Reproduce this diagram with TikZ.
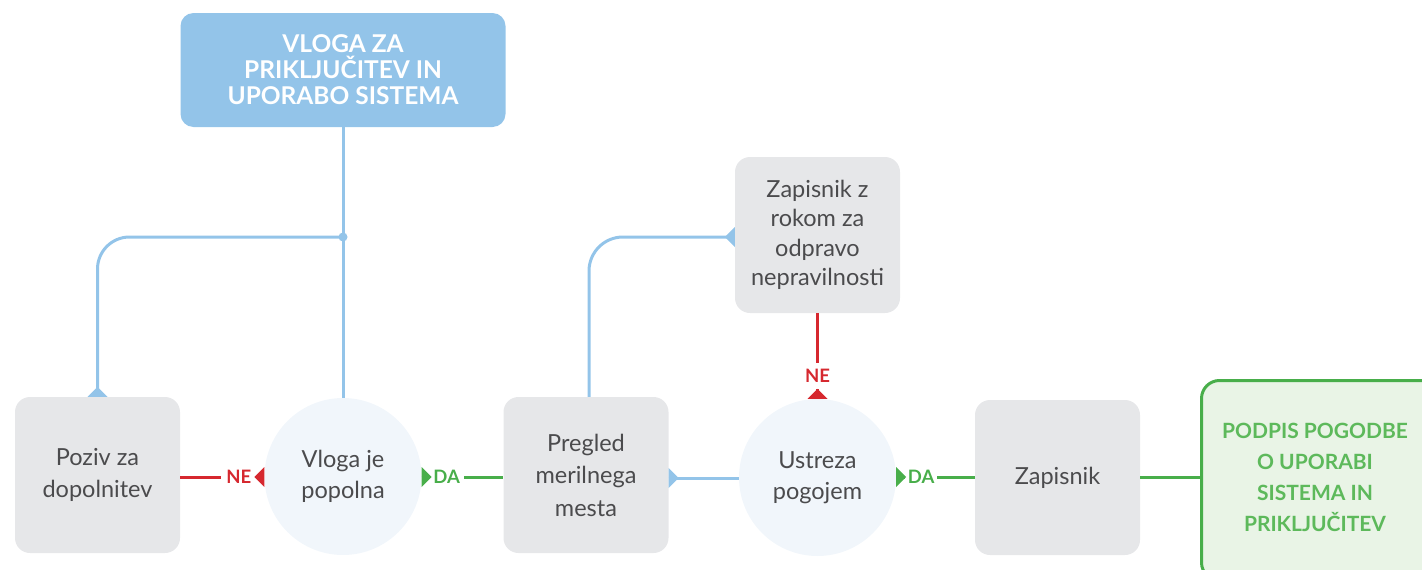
\documentclass[tikz,border=0pt]{standalone}
\usepackage{fontspec}
\setmainfont{Lato}
\usetikzlibrary{calc}
\definecolor{lblue}{HTML}{93C4E9}
\definecolor{redc}{HTML}{D6282F}
\definecolor{greenc}{HTML}{48AE4A}
\definecolor{greentxt}{HTML}{5DB95B}
\definecolor{gboxc}{HTML}{E6E7E9}
\definecolor{circc}{HTML}{F1F6FB}
\definecolor{txt}{HTML}{4B4B4D}
\definecolor{pfill}{HTML}{E9F4E6}
\tikzset{
  gbox/.style={rectangle, rounded corners=15, fill=gboxc, minimum width=165, minimum height=156,
    align=center, text=txt, inner sep=0, font=\fontsize{23.5}{32.5}\selectfont},
  circ/.style={circle, fill=circc, minimum size=157, align=center, text=txt, inner sep=0,
    font=\fontsize{23.5}{31}\selectfont},
  bl/.style={draw=lblue, line width=3},
  rl/.style={draw=redc, line width=3},
  gl/.style={draw=greenc, line width=3},
  lab/.style={font=\bfseries\fontsize{18.5}{18.5}\selectfont, inner sep=0, fill=white},
  tri/.pic={\fill (0,-10) -- (10,0) -- (0,10) -- cycle;}
}
\begin{document}
\begin{tikzpicture}[x=1pt,y=-1pt]
\useasboundingbox (0,0) rectangle (1422,570);
\begin{scope}
\clip (0,0) rectangle (1422,570);
% nodes
\node[rectangle, rounded corners=13, fill=lblue, minimum width=325, minimum height=114, inner sep=0,
  align=center, text=white, font=\bfseries\fontsize{24.5}{26}\selectfont] (top) at (343,70)
  {VLOGA ZA\\PRIKLJUČITEV IN\\UPORABO SISTEMA};
\node[gbox] (poziv) at (97.5,475) {Poziv za\\dopolnitev};
\node[circ] (vloga) at (343,476.5) {Vloga je\\popolna};
\node[gbox] (pregled) at (586,475) {Pregled\\merilnega\\mesta};
\node[circ] (ustreza) at (817.5,477.5) {Ustreza\\pogojem};
\node[gbox, font=\fontsize{23.5}{29.5}\selectfont] (zapr) at (817.5,235) {Zapisnik z\\rokom za\\odpravo\\nepravilnosti};
\node[gbox, minimum height=155] (zap) at (1057.5,477.5) {Zapisnik};
\node[rectangle, rounded corners=18, draw=greenc, line width=3, fill=pfill, minimum width=240,
  minimum height=200, inner sep=0] (podpis) at (1321.5,480.5) {};
\node[anchor=center, inner sep=0, align=center, text=greentxt,
  font=\bfseries\fontsize{21}{31}\selectfont] (podpistxt) at (1315,477.5)
  {PODPIS POGODBE\\O UPORABI\\SISTEMA IN\\PRIKLJUČITEV};
\end{scope}
% top connector and branch to poziv
\coordinate (j) at (top.south |- 0,237);
\draw[bl] (top.south) -- (vloga.north);
\draw[bl, rounded corners=32] (j) -| (poziv.north);
\fill[lblue] (j) circle (4.5);
\pic[lblue, rotate=90] at (poziv.north) {tri};
% vloga -> NE -> poziv
\draw[rl] (poziv.east |- 0,477) -- (vloga.west |- 0,477);
\node[lab, text=redc, minimum width=35] (ne1) at ($(vloga.west |- 0,477)+(-25.5,0)$) {NE};
\pic[redc, rotate=180] at (vloga.west |- 0,477) {tri};
% vloga -> DA -> pregled
\draw[gl] (vloga.east |- 0,477) -- (pregled.west |- 0,477);
\node[lab, text=greenc, minimum width=34] (da1) at ($(vloga.east |- 0,477)+(25,0)$) {DA};
\pic[greenc] at (vloga.east |- 0,477) {tri};
% pregled -> ustreza
\draw[bl] (pregled.east |- 0,478) -- (ustreza.west |- 0,478);
\pic[lblue] at (pregled.east |- 0,478) {tri};
% pregled -> zapr
\coordinate (pt) at ($(pregled.north)+(3,0)$);
\draw[bl, rounded corners=34] (pt) |- (zapr.west |- 0,237);
\pic[lblue, rotate=180] at (zapr.west |- 0,237) {tri};
% ustreza -> NE -> zapr
\draw[rl] (ustreza.north) -- (zapr.south);
\node[lab, text=redc, minimum height=26] (ne2) at ($(ustreza.north)+(0,-23)$) {NE};
\pic[redc, rotate=90] at (ustreza.north) {tri};
% ustreza -> DA -> zap
\draw[gl] (ustreza.east |- 0,477) -- (zap.west |- 0,477);
\node[lab, text=greenc, minimum width=32] (da2) at ($(ustreza.east |- 0,477)+(25,0)$) {DA};
\pic[greenc] at (ustreza.east |- 0,477) {tri};
% zap -> podpis
\draw[gl] (zap.east |- 0,477) -- (podpis.west |- 0,477);
\end{tikzpicture}
\end{document}
